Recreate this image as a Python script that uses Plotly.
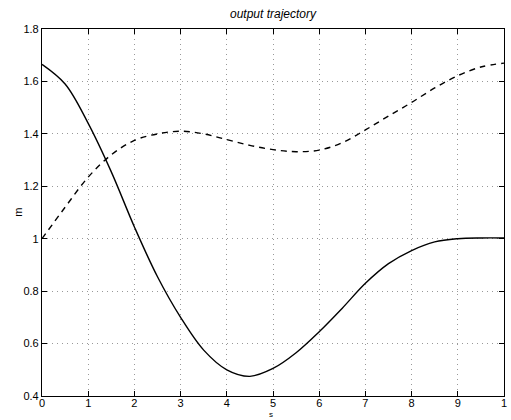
import plotly.graph_objects as go

solid_x = [0, 0.5, 1.0, 1.5, 2.0, 2.5, 3.0, 3.5, 4.0, 4.5, 5.0, 5.5, 6.0, 6.5, 7.0, 7.5, 8.0, 8.5, 9.0, 9.5, 10]
solid_y = [1.665, 1.59, 1.44, 1.255, 1.045, 0.855, 0.70, 0.575, 0.50, 0.475, 0.505, 0.565, 0.645, 0.735, 0.83, 0.905, 0.955, 0.988, 1.0, 1.003, 1.003]

dash_x = [0, 0.5, 1.0, 1.5, 2.0, 2.5, 3.0, 3.5, 4.0, 4.5, 5.0, 5.5, 6.0, 6.5, 7.0, 7.5, 8.0, 8.5, 9.0, 9.5, 10]
dash_y = [1.0, 1.12, 1.235, 1.32, 1.375, 1.40, 1.41, 1.40, 1.378, 1.356, 1.34, 1.332, 1.338, 1.366, 1.415, 1.468, 1.52, 1.575, 1.622, 1.655, 1.67]

x_ticks = [0, 1, 2, 3, 4, 5, 6, 7, 8, 9, 10]
x_tick_labels = ["0", "1", "2", "3", "4", "5", "6", "7", "8", "9", "1"]
y_ticks = [0.4, 0.6, 0.8, 1.0, 1.2, 1.4, 1.6, 1.8]
y_tick_labels = ["0.4", "0.6", "0.8", "1", "1.2", "1.4", "1.6", "1.8"]

FONT = "Liberation Sans, Arial"

fig = go.Figure()
fig.add_trace(go.Scatter(x=solid_x, y=solid_y, mode="lines",
                         line=dict(color="black", width=1.4, shape="spline", smoothing=1.0)))
fig.add_trace(go.Scatter(x=dash_x, y=dash_y, mode="lines",
                         line=dict(color="black", width=1.4, dash="6px,5px", shape="spline", smoothing=1.0)))

axis_common = dict(showline=True, linecolor="black", linewidth=1.2, mirror="allticks",
                   ticks="inside", ticklen=5, tickcolor="black",
                   showgrid=True, gridcolor="#999", griddash="1px,4px", gridwidth=1,
                   zeroline=False, tickfont=dict(family=FONT, size=11, color="black"))

fig.update_xaxes(range=[0, 10], tickvals=x_ticks, ticktext=x_tick_labels,
                 ticklabelstandoff=-3, **axis_common)
fig.update_yaxes(range=[0.4, 1.8], tickvals=y_ticks, ticktext=y_tick_labels, **axis_common)

fig.update_layout(
    width=511, height=420,
    margin=dict(l=42, r=4, t=29, b=24),
    paper_bgcolor="white", plot_bgcolor="white",
    showlegend=False,
    title=dict(text="<i>output trajectory</i>", x=273/511, xanchor="center", y=1 - 14/420, yanchor="middle",
               font=dict(family=FONT, size=12, color="black")),
    annotations=[
        dict(text="s", xref="x", yref="paper", x=4.95, y=-24/367, yanchor="bottom", borderpad=0,
             showarrow=False, font=dict(family=FONT, size=8, color="black")),
        dict(text="m", xref="paper", yref="paper", x=-25/465, y=0.5, textangle=-90,
             xanchor="center", yanchor="middle",
             showarrow=False, font=dict(family=FONT, size=11, color="black")),
    ],
)

fig.write_html("out.html")
